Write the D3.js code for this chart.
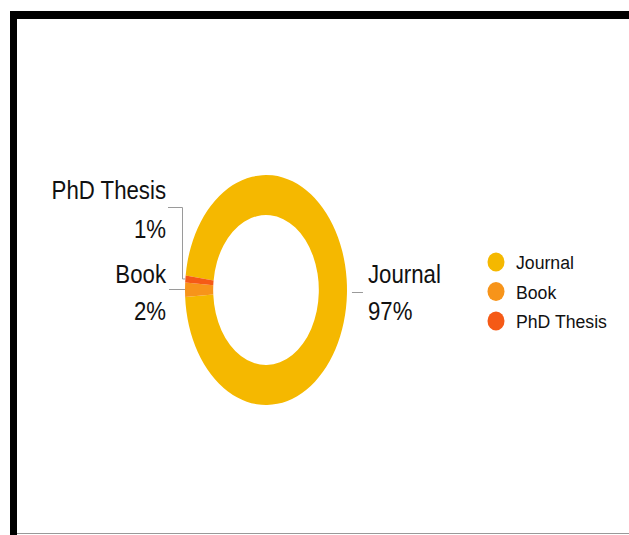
<!DOCTYPE html>
<html>
<head>
<meta charset="utf-8">
<script src="https://cdn.jsdelivr.net/npm/d3@7"></script>
<style>
  body { margin: 0; background: #fff; }
  svg { display: block; font-family: "Liberation Sans", Arial, Helvetica, sans-serif; }
</style>
</head>
<body>
<div class="chart"></div>
<script>
const categories = ["Journal", "Book", "PhD Thesis"];
const values = [97, 2, 1];
const percentLabels = ["97%", "2%", "1%"];
const colors = ["#F5B800", "#F7941A", "#F55A16"];

const W = 629, H = 535;
const cx = 266, cy = 290;
const outerR = 115, innerR = 75;
const squeeze = 81 / 115; // donut is drawn stretched vertically
const textColor = "#111";
const lineColor = "#9a9a9a";

const svg = d3.select(".chart")
    .append("svg")
    .attr("width", W)
    .attr("height", H);

// frame
svg.append("rect").attr("x", 0).attr("y", 0).attr("width", W).attr("height", H).attr("fill", "#fff");
svg.append("rect").attr("x", 10).attr("y", 11).attr("width", W - 10).attr("height", 8).attr("fill", "#000");
svg.append("rect").attr("x", 10).attr("y", 11).attr("width", 7).attr("height", H - 11).attr("fill", "#000");
svg.append("line").attr("x1", 17).attr("x2", W).attr("y1", 533.5).attr("y2", 533.5)
    .attr("stroke", "#999").attr("stroke-width", 1);

const start = (266.5 - 349.2) * Math.PI / 180;
const pie = d3.pie().sort(null).value(d => d)
    .startAngle(start).endAngle(start + 2 * Math.PI);
const arcs = pie(values);
const arc = d3.arc().innerRadius(innerR).outerRadius(outerR);

const donut = svg.append("g")
    .attr("transform", `translate(${cx},${cy}) scale(${squeeze},1)`);
donut.selectAll("path")
    .data(arcs)
    .enter()
    .append("path")
    .attr("d", arc)
    .attr("fill", (d, i) => colors[i]);

// outer edge point of a slice, in page coordinates
function edge(d) {
    const a = (d.startAngle + d.endAngle) / 2;
    return [cx + Math.sin(a) * outerR * squeeze, cy - Math.cos(a) * outerR];
}

const fs = 26, sx = 0.855;
function label(x, y, txt, anchor, size, scale) {
    svg.append("text")
        .attr("transform", `translate(${x},${y}) scale(${scale},1)`)
        .attr("text-anchor", anchor)
        .attr("font-size", size)
        .attr("fill", textColor)
        .text(txt);
}

// Journal (right)
const pj = edge(arcs[0]);
svg.append("line").attr("x1", pj[0] + 5).attr("x2", pj[0] + 16)
    .attr("y1", 292.5).attr("y2", 292.5).attr("stroke", lineColor);
label(368, 283, categories[0], "start", fs, sx);
label(368, 320, percentLabels[0], "start", fs, sx);

// Book (left)
const pb = edge(arcs[1]);
svg.append("polyline")
    .attr("points", [[169, 289.5], [pb[0], 289.5]].join(" "))
    .attr("fill", "none").attr("stroke", lineColor);
label(166, 283, categories[1], "end", fs, sx);
label(166, 320, percentLabels[1], "end", fs, sx);

// PhD Thesis (left, above)
const pp = edge(arcs[2]);
svg.append("polyline")
    .attr("points", [[168, 207.5], [182.5, 207.5], [182.5, pp[1]], [pp[0], pp[1]]].join(" "))
    .attr("fill", "none").attr("stroke", lineColor);
label(166, 199, categories[2], "end", fs, sx);
label(166, 238, percentLabels[2], "end", fs, sx);

// legend
const legend = svg.append("g").attr("transform", "translate(496,262)");
const rows = legend.selectAll("g")
    .data(categories)
    .enter()
    .append("g")
    .attr("transform", (d, i) => `translate(0,${i * 29.5})`);
rows.append("ellipse")
    .attr("rx", 8.5).attr("ry", 9.5)
    .attr("fill", (d, i) => colors[i]);
rows.append("text")
    .attr("transform", "translate(20,7) scale(0.93,1)")
    .attr("font-size", 19)
    .attr("fill", textColor)
    .text(d => d);
</script>
</body>
</html>
